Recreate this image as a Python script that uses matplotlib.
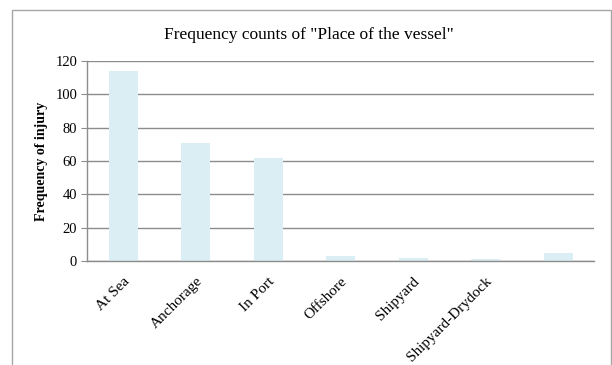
import matplotlib.pyplot as plt
from matplotlib.patches import Rectangle

# counts per location on board
places = ['At Sea', 'Anchorage', 'In Port', 'Offshore', 'Shipyard',
          'Shipyard-Drydock', '']
counts = [114, 71, 62, 3, 2, 1, 5]
y_ticks = [0, 20, 40, 60, 80, 100, 120]

plt.rcParams['font.family'] = ['Liberation Serif', 'DejaVu Serif']

fig = plt.figure(figsize=(6.12, 3.65), dpi=100)
ax = fig.add_axes([0.142, 0.285, 0.829, 0.548])

# chart frame around the whole figure
fig.patches.append(Rectangle((12 / 612, -0.2), 599 / 612, 1.2 - 10 / 365,
                             transform=fig.transFigure, fill=False,
                             edgecolor='#a6a6a6', linewidth=1.0))

x = range(len(places))
ax.bar(x, counts, width=0.4, color='#daeef3', zorder=2)

ax.set_xlim(-0.5, len(places) - 0.5)
ax.set_ylim(0, 120)
ax.set_yticks(y_ticks)
ax.set_yticklabels([str(v) for v in y_ticks], fontsize=10.5)
ax.grid(axis='y', color='#8c8c8c', linewidth=1.0, zorder=1)

ax.set_xticks(list(x))
ax.set_xticklabels(places, rotation=45, ha='right', rotation_mode='anchor',
                   fontsize=11)
ax.tick_params(axis='x', length=0, pad=10)
ax.tick_params(axis='y', length=4, color='#8c8c8c', pad=3)

for side in ['top', 'right']:
    ax.spines[side].set_visible(False)
for side in ['left', 'bottom']:
    ax.spines[side].set_color('#8c8c8c')
    ax.spines[side].set_linewidth(1.0)

ax.set_ylabel('Frequency of injury', fontsize=10, fontweight='bold',
              labelpad=5)
fig.text(309 / 612, 1 - 35 / 365, 'Frequency counts of "Place of the vessel"',
         ha='center', va='center', fontsize=12.5)

fig.savefig('out.png', dpi=100)
